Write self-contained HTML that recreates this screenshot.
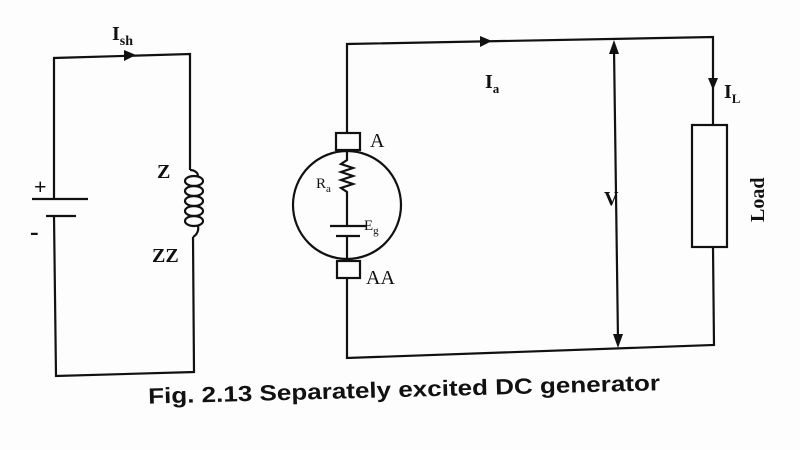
<!DOCTYPE html>
<html><head><style>
body{margin:0;background:#fff;}
svg{display:block}
text{font-family:"Liberation Serif",serif;fill:#111}
</style></head><body>
<svg width="800" height="450" viewBox="0 0 800 450">
<rect width="800" height="450" fill="#fdfdfd"/>
<g stroke="#111" stroke-width="2.2" fill="none">
<polyline points="54,199 54,58 190,54 190,170"/>
<polyline points="54,216 56,376 194,372 193,237"/>
<line x1="32" y1="199" x2="88" y2="199"/>
<line x1="46" y1="216" x2="76" y2="216"/>
<path d="M190,170 A8,6 0 0 1 198,176"/>
<ellipse cx="194" cy="181" rx="9" ry="5"/>
<ellipse cx="194" cy="191" rx="9" ry="5"/>
<ellipse cx="194" cy="201" rx="9" ry="5"/>
<ellipse cx="194" cy="211" rx="9" ry="5"/>
<ellipse cx="194" cy="221" rx="9" ry="5"/>
<path d="M198,226 A10,10 0 0 1 193,237"/>
<polyline points="347,133 347,44 713,37 713,125"/>
<polyline points="347,278 347,358 714,345 713,247"/>
<rect x="336" y="133" width="24" height="17"/>
<rect x="337" y="261" width="23" height="17"/>
<circle cx="347" cy="205" r="54"/>
<polyline points="347,150 347,160 341,164 353,168 341,172 353,176 341,180 353,184 341,188 347,192 347,226"/>
<line x1="330" y1="226" x2="366" y2="226"/>
<line x1="336" y1="236" x2="360" y2="236"/>
<line x1="347" y1="236" x2="347" y2="261"/>
<rect x="692" y="125" width="35" height="122"/>
<line x1="614" y1="48" x2="618" y2="340"/>
</g>
<g fill="#111">
<polygon points="136,55 124,50 124,61"/>
<polygon points="492,41 480,36 480,47"/>
<polygon points="713,90 708,78 718,78"/>
<polygon points="614,40 609,54 619,54"/>
<polygon points="618,348 613,334 623,334"/>
</g>
<text x="112" y="40" font-size="20" font-weight="bold">I<tspan font-size="14" dy="5">sh</tspan></text>
<text x="34" y="194" font-size="22" font-weight="bold">+</text>
<text x="30" y="240" font-size="26" font-weight="bold">-</text>
<text x="157" y="178" font-size="20" font-weight="bold">Z</text>
<text x="152" y="262" font-size="20" font-weight="bold">ZZ</text>
<text x="485" y="88" font-size="20" font-weight="bold">I<tspan font-size="13" dy="5">a</tspan></text>
<text x="724" y="98" font-size="20" font-weight="bold">I<tspan font-size="13" dy="5">L</tspan></text>
<text x="370" y="147" font-size="20">A</text>
<text x="366" y="284" font-size="20">AA</text>
<text x="316" y="188" font-size="15">R<tspan font-size="11" dy="4">a</tspan></text>
<text x="364" y="230" font-size="15">E<tspan font-size="11" dy="4">g</tspan></text>
<text x="604" y="205" font-size="20" font-weight="bold">V</text>
<text transform="translate(764,222) rotate(-90)" font-size="20" font-weight="bold">Load</text>
<text x="148" y="397" font-size="22" font-weight="bold" textLength="512" lengthAdjust="spacingAndGlyphs" transform="rotate(-1.5 400 388)" style="font-family:'Liberation Sans',sans-serif">Fig. 2.13 Separately excited DC generator</text>
</svg>
</body></html>
